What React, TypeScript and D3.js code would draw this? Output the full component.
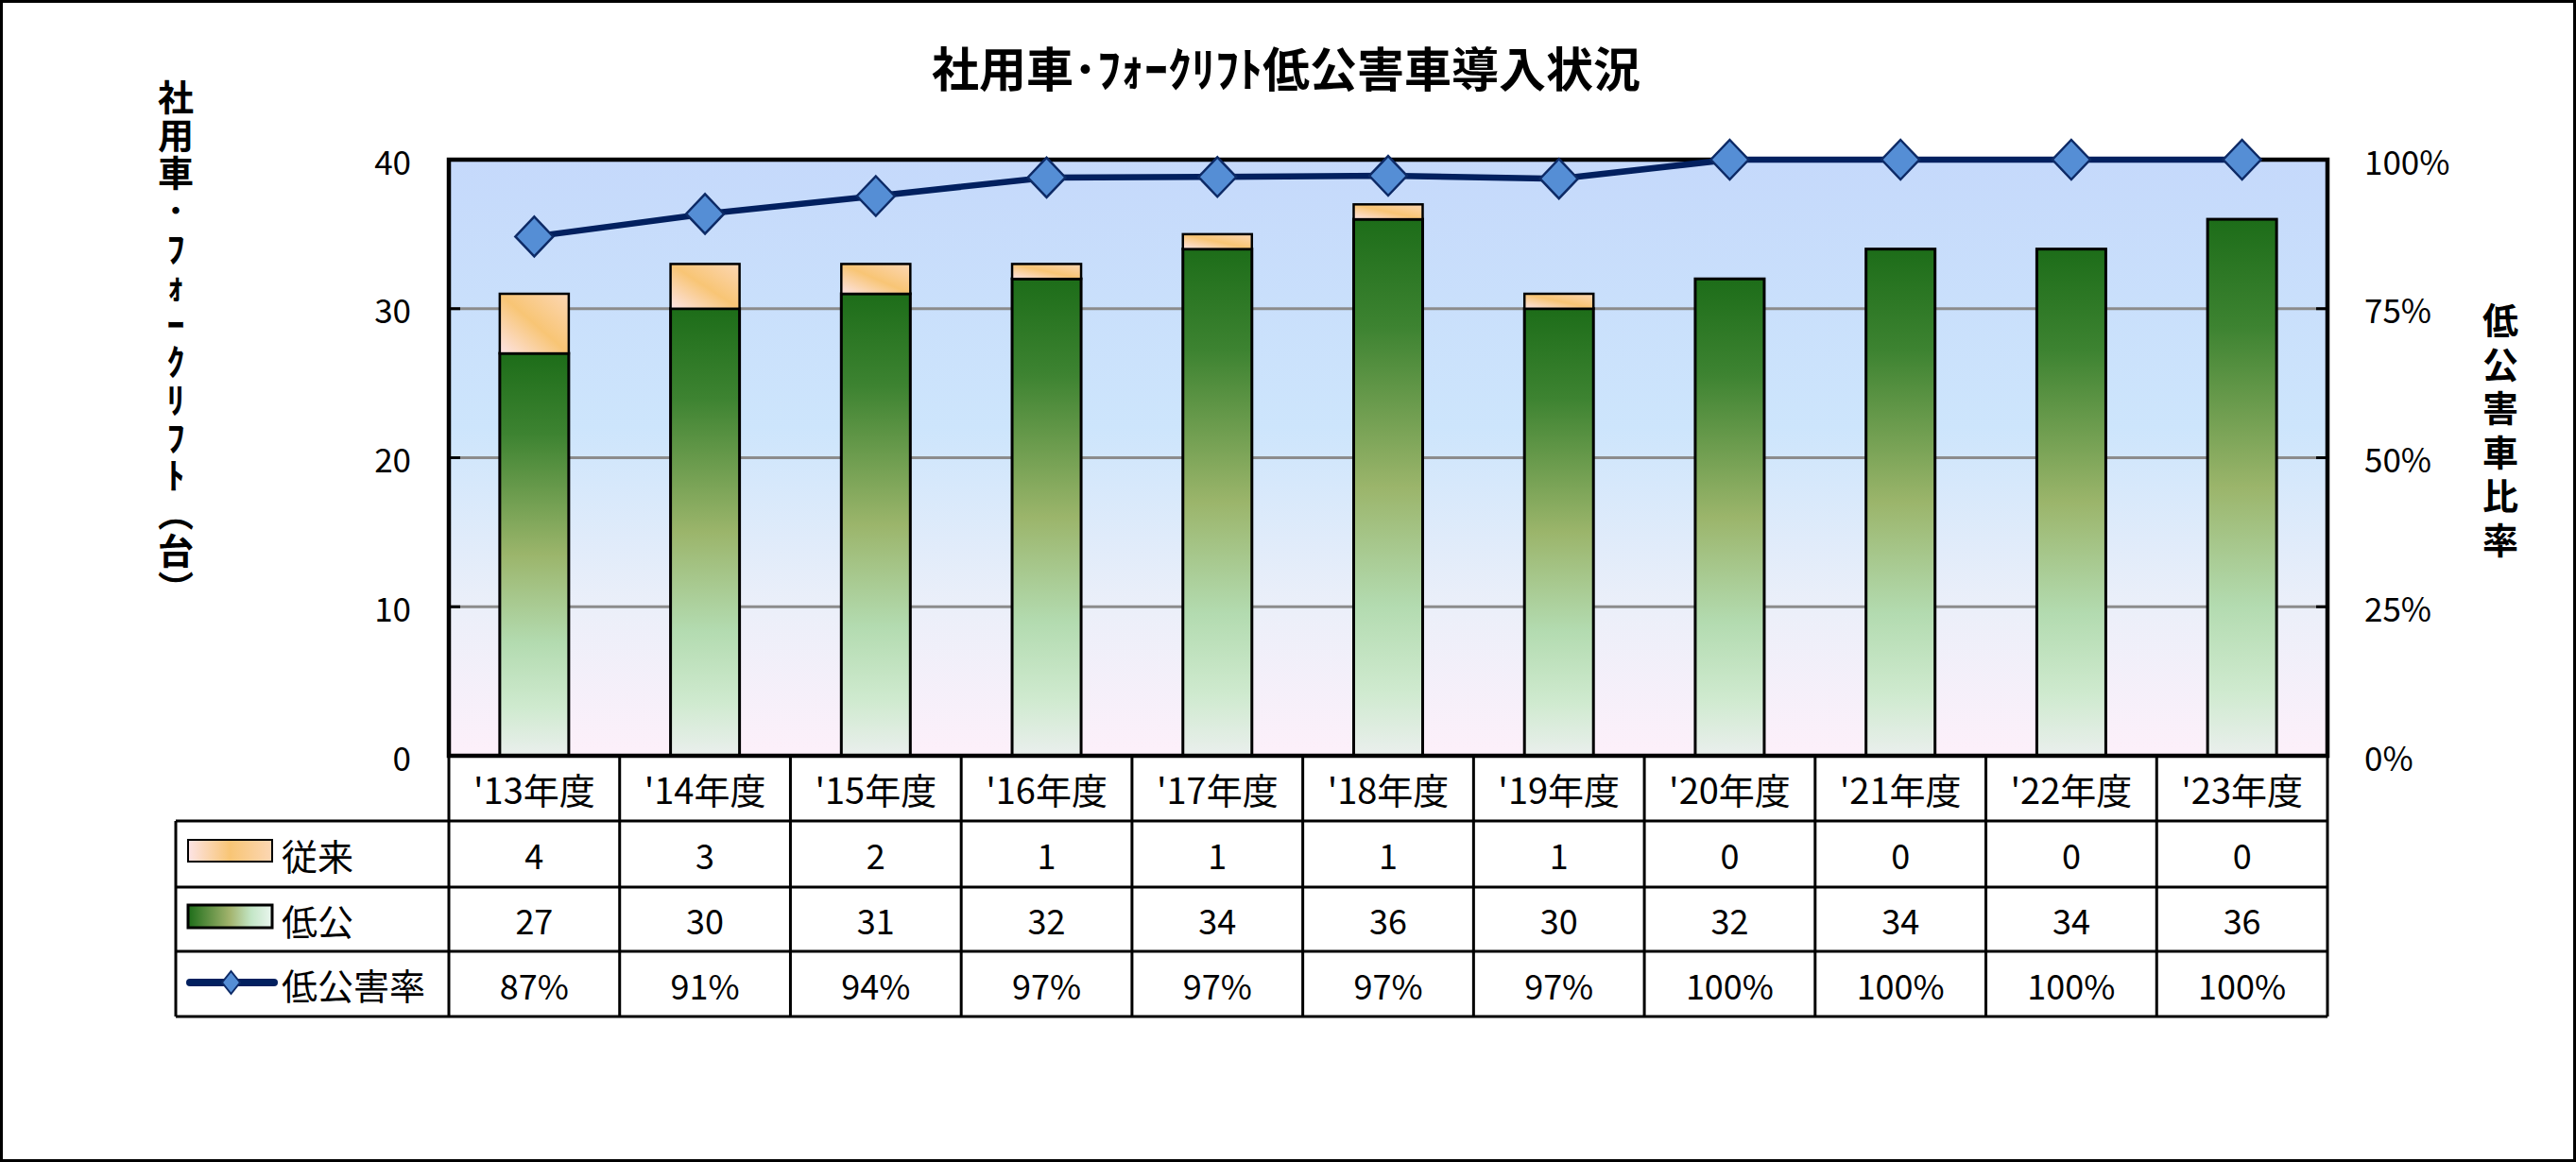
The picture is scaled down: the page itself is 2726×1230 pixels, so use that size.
import React from "react";
import * as d3 from "d3";

const categories = ["'13年度", "'14年度", "'15年度", "'16年度", "'17年度", "'18年度", "'19年度", "'20年度", "'21年度", "'22年度", "'23年度"];
const conventional = [4, 3, 2, 1, 1, 1, 1, 0, 0, 0, 0];
const lowEmission = [27, 30, 31, 32, 34, 36, 30, 32, 34, 34, 36];
const lowRatio = [0.871, 0.909, 0.939, 0.970, 0.971, 0.973, 0.968, 1, 1, 1, 1];
const leftTicks = [0, 10, 20, 30, 40];
const rightTicks = [0, 0.25, 0.5, 0.75, 1];
const seriesNames = ["従来", "低公", "低公害率"];
const title = "社用車･ﾌｫｰｸﾘﾌﾄ低公害車導入状況";
const leftTitle = "社用車･ﾌｫｰｸﾘﾌﾄ（台）";
const rightTitle = "低公害車比率";

const W = 2726;
const H = 1230;
const L = 475, R = 2463, T = 169, B = 800;
const rowEdges = [800, 869, 939, 1007, 1076];
const FONT = "'Noto Sans CJK JP', 'Noto Sans', sans-serif";

export default function App() {
  const x = d3.scaleBand<string>().domain(categories).range([L, R]).paddingInner(0.596).paddingOuter(0.298);
  const col = d3.scaleBand<string>().domain(categories).range([L, R]).padding(0);
  const yL = d3.scaleLinear().domain([0, 40]).range([B, T]);
  const yR = d3.scaleLinear().domain([0, 1]).range([B, T]);
  const pct = d3.format(".0%");
  const cx = (c: string) => (x(c) as number) + x.bandwidth() / 2;
  const line = d3.line<number>().x((_, i) => cx(categories[i])).y((d) => yR(d));
  const diamond = (px: number, py: number, w: number, h: number) =>
    `M${px},${py - h / 2}L${px + w / 2},${py}L${px},${py + h / 2}L${px - w / 2},${py}Z`;

  const rowsY = [0, 1, 2, 3].map((i) => (rowEdges[i] + rowEdges[i + 1]) / 2);
  const vertical: React.CSSProperties = { writingMode: "vertical-rl", textOrientation: "upright" } as React.CSSProperties;

  return (
    <svg width={W} height={H} style={{ position: "absolute", left: 0, top: 0, display: "block", background: "#fff" }} fontFamily={FONT}>
      <defs>
        <linearGradient id="bg" x1="0" y1="0" x2="0" y2="1">
          <stop offset="0" stopColor="#c5d9fb" />
          <stop offset="0.45" stopColor="#cde5fc" />
          <stop offset="0.75" stopColor="#ebeff9" />
          <stop offset="1" stopColor="#fdf0fa" />
        </linearGradient>
        <linearGradient id="green" x1="0" y1="0" x2="0" y2="1">
          <stop offset="0" stopColor="#1d6d19" />
          <stop offset="0.2" stopColor="#3d8331" />
          <stop offset="0.5" stopColor="#9bb56b" />
          <stop offset="0.72" stopColor="#b3dbb0" />
          <stop offset="0.88" stopColor="#cfeacf" />
          <stop offset="1" stopColor="#eaefed" />
        </linearGradient>
        <linearGradient id="greenH" x1="0" y1="0" x2="1" y2="0">
          <stop offset="0" stopColor="#1d6d19" />
          <stop offset="0.5" stopColor="#a3b46e" />
          <stop offset="0.75" stopColor="#c3e6c6" />
          <stop offset="1" stopColor="#eaf6ef" />
        </linearGradient>
        <linearGradient id="orange" x1="0" y1="1" x2="1" y2="0">
          <stop offset="0" stopColor="#fde4e6" />
          <stop offset="0.5" stopColor="#f8c575" />
          <stop offset="1" stopColor="#fcd7b4" />
        </linearGradient>
        <linearGradient id="orangeH" x1="0" y1="0" x2="1" y2="0">
          <stop offset="0" stopColor="#fde4e6" />
          <stop offset="0.5" stopColor="#f8c575" />
          <stop offset="1" stopColor="#fcd7b4" />
        </linearGradient>
      </defs>

      <rect x={1.5} y={1.5} width={W - 3} height={H - 3} fill="#fff" stroke="#000" strokeWidth={3} />

      <text x={1361} y={70} textAnchor="middle" dominantBaseline="central" fontSize={50} fontWeight="bold">{title}</text>

      {/* plot background */}
      <rect x={L} y={T} width={R - L} height={B - T} fill="url(#bg)" />

      {/* gridlines */}
      {leftTicks.filter((t) => t > 0 && t < 40).map((t) => (
        <line key={"g" + t} x1={L} x2={R} y1={yL(t)} y2={yL(t)} stroke="#8c8c8c" strokeWidth={3} />
      ))}

      {/* bars */}
      {categories.map((c, i) => (
        <g key={"b" + c}>
          <rect x={x(c)} y={yL(lowEmission[i])} width={x.bandwidth()} height={B - yL(lowEmission[i])} fill="url(#green)" stroke="#000" strokeWidth={3} />
          {conventional[i] > 0 && (
            <rect x={x(c)} y={yL(lowEmission[i] + conventional[i])} width={x.bandwidth()} height={yL(lowEmission[i]) - yL(lowEmission[i] + conventional[i])} fill="url(#orange)" stroke="#000" strokeWidth={2.5} />
          )}
        </g>
      ))}

      {/* ticks */}
      {leftTicks.map((t) => (
        <line key={"lt" + t} x1={L} x2={L + 12} y1={yL(t)} y2={yL(t)} stroke="#000" strokeWidth={3} />
      ))}
      {rightTicks.map((t) => (
        <line key={"rt" + t} x1={R - 12} x2={R} y1={yR(t)} y2={yR(t)} stroke="#000" strokeWidth={3} />
      ))}

      {/* plot border */}
      <rect x={L} y={T} width={R - L} height={B - T} fill="none" stroke="#000" strokeWidth={4.5} />

      {/* axis labels */}
      {leftTicks.map((t) => (
        <text key={"ll" + t} x={435} y={yL(t)} textAnchor="end" dominantBaseline="central" fontSize={35}>{t}</text>
      ))}
      {rightTicks.map((t) => (
        <text key={"rl" + t} x={2502} y={yR(t)} textAnchor="start" dominantBaseline="central" fontSize={35}>{pct(t)}</text>
      ))}

      {/* axis titles */}
      <text x={186} y={84} style={vertical} fontSize={38} fontWeight="bold" letterSpacing={2}>{leftTitle}</text>
      <text x={2646} y={320} style={vertical} fontSize={38} fontWeight="bold" letterSpacing={8.5}>{rightTitle}</text>

      {/* line series */}
      <path d={line(lowRatio) || ""} fill="none" stroke="#02205f" strokeWidth={6.5} strokeLinejoin="round" />
      {categories.map((c, i) => (
        <path key={"m" + c} d={diamond(cx(c), yR(lowRatio[i]), 40, 42)} fill="#558ed5" stroke="#0d2a66" strokeWidth={2.5} />
      ))}

      {/* data table */}
      <g stroke="#000" strokeWidth={3} fill="none">
        {rowEdges.slice(1).map((ry) => (
          <line key={"h" + ry} x1={186} x2={R} y1={ry} y2={ry} />
        ))}
        {categories.map((c) => (
          <line key={"v" + c} x1={(col(c) as number) + col.bandwidth()} x2={(col(c) as number) + col.bandwidth()} y1={B} y2={rowEdges[4]} />
        ))}
        <line x1={L} x2={L} y1={B} y2={rowEdges[4]} />
        <line x1={186} x2={186} y1={rowEdges[1]} y2={rowEdges[4]} />
      </g>
      {categories.map((c, i) => {
        const mx = (col(c) as number) + col.bandwidth() / 2;
        return (
          <g key={"t" + c} textAnchor="middle" dominantBaseline="central">
            <text x={mx} y={rowsY[0]} fontSize={38}>{c}</text>
            <text x={mx} y={rowsY[1]} fontSize={36}>{conventional[i]}</text>
            <text x={mx} y={rowsY[2]} fontSize={36}>{lowEmission[i]}</text>
            <text x={mx} y={rowsY[3]} fontSize={36}>{pct(lowRatio[i])}</text>
          </g>
        );
      })}

      {/* legend keys */}
      <rect x={199} y={889} width={89} height={23} fill="url(#orangeH)" stroke="#000" strokeWidth={2} />
      <rect x={199} y={958} width={89} height={24} fill="url(#greenH)" stroke="#000" strokeWidth={3} />
      <line x1={201} x2={290} y1={1040} y2={1040} stroke="#02205f" strokeWidth={8} strokeLinecap="round" />
      <path d={diamond(244.5, 1040, 19, 24)} fill="#558ed5" stroke="#0d2a66" strokeWidth={2} />
      {seriesNames.map((s, i) => (
        <text key={"ln" + s} x={298} y={rowsY[i + 1]} dominantBaseline="central" fontSize={38}>{s}</text>
      ))}
    </svg>
  );
}
